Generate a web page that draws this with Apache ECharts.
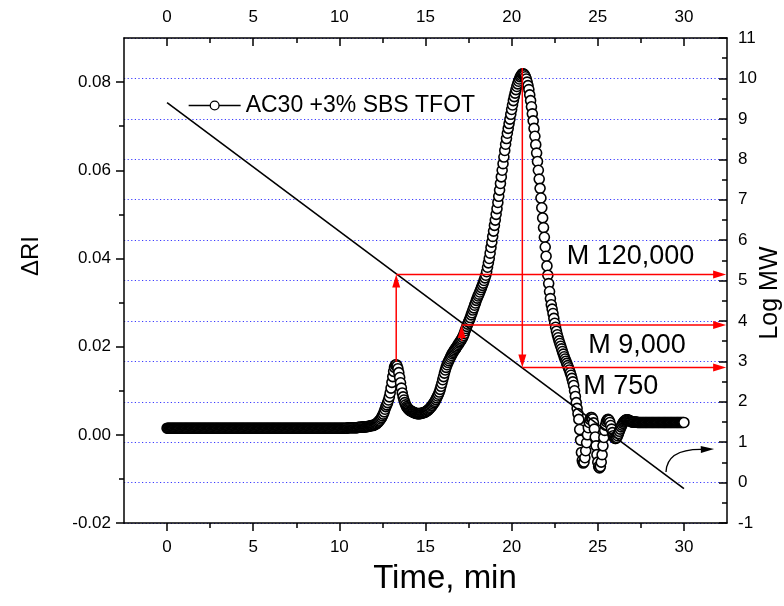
<!DOCTYPE html>
<html>
<head>
<meta charset="utf-8">
<script src="https://cdn.jsdelivr.net/npm/echarts@6/dist/echarts.min.js"></script>
<style>
html,body{margin:0;padding:0;background:#fff;}
#chart{width:784px;height:606px;}
</style>
</head>
<body>
<div id="chart"></div>
<script>
// ---------------- DATA ----------------
const SERIES_NAME = 'AC30 +3% SBS TFOT';

// ΔRI detector signal, sampled every 0.05 min; one row per minute
const SAMPLE_START = 0, SAMPLE_STEP = 0.05;
const riBaseline = [
  // 0
  0.0015,0.0015,0.0015,0.0015,0.0015,0.0015,0.0015,0.0015,0.0015,0.0015,0.0015,0.0015,0.0015,0.0015,0.0015,0.0015,0.0015,0.0015,0.0015,0.0015,
  // 1
  0.0015,0.0015,0.0015,0.0015,0.0015,0.0015,0.0015,0.0015,0.0015,0.0015,0.0015,0.0015,0.0015,0.0015,0.0015,0.0015,0.0015,0.0015,0.0015,0.0015,
  // 2
  0.0015,0.0015,0.0015,0.0015,0.0015,0.0015,0.0015,0.0015,0.0015,0.0015,0.0015,0.0015,0.0015,0.0015,0.0015,0.0015,0.0015,0.0015,0.0015,0.0015,
  // 3
  0.0015,0.0015,0.0015,0.0015,0.0015,0.0015,0.0015,0.0015,0.0015,0.0015,0.0015,0.0015,0.0015,0.0015,0.0015,0.0015,0.0015,0.0015,0.0015,0.0015,
  // 4
  0.0015,0.0015,0.0015,0.0015,0.0015,0.0015,0.0015,0.0015,0.0015,0.0015,0.0015,0.0015,0.0015,0.0015,0.0015,0.0015,0.0015,0.0015,0.0015,0.0015,
  // 5
  0.0015,0.0015,0.0015,0.0015,0.0015,0.0015,0.0015,0.0015,0.0015,0.0015,0.0015,0.0015,0.0015,0.0015,0.0015,0.0015,0.0015,0.0015,0.0015,0.0015,
  // 6
  0.0015,0.0015,0.0015,0.0015,0.0015,0.0015,0.0015,0.0015,0.0015,0.0015,0.0015,0.0015,0.0015,0.0015,0.0015,0.0015,0.0015,0.0015,0.0015,0.0015,
  // 7
  0.0015,0.0015,0.0015,0.0015,0.0015,0.0015,0.0015,0.0015,0.0015,0.0015,0.0015,0.0015,0.0015,0.0015,0.0015,0.0015,0.0015,0.0015,0.0015,0.0015,
  // 8
  0.0015,0.0015,0.0015,0.0015,0.0015,0.0015,0.0015,0.0015,0.0015,0.0015,0.0015,0.0015,0.0015,0.0015,0.0015,0.0015,0.0015,0.0015,0.0015,0.0015,
  // 9
  0.0015,0.0015,0.0015,0.0015,0.0015,0.0015,0.0015,0.0015,0.0015,0.0015,0.0015,0.0015,0.0015,0.0015,0.0015,0.0015,0.0015,0.0015,0.0015,0.0015,
  // 10
  0.0015,0.0015,0.0015,0.0015,0.0015,0.0015,0.0015,0.0015,0.0015,0.0015,0.0016,0.0016,0.0016,0.0016,0.0016,0.0016,0.0016,0.0016,0.0016,0.0016,
  // 11
  0.0016,0.0016,0.0017,0.0017,0.0017,0.0017,0.0017,0.0018,0.0018,0.0018,0.0018,0.0018,0.0019,0.0019,0.0019,0.0020,0.0020,0.0021,0.0021,0.0021
];
const riPeaks = [
  // 12
  0.0022,0.0023,0.0024,0.0025,0.0027,0.0029,0.0031,0.0033,0.0036,0.0039,0.0043,0.0047,0.0052,0.0058,0.0064,0.0068,0.0073,0.0079,0.0086,0.0095,
  // 13
  0.0106,0.0119,0.0132,0.0144,0.0153,0.0158,0.0159,0.0156,0.0150,0.0141,0.0130,0.0118,0.0106,0.0095,0.0086,0.0079,0.0073,0.0068,0.0064,0.0061,
  // 14
  0.0059,0.0057,0.0055,0.0054,0.0053,0.0052,0.0051,0.0050,0.0049,0.0049,0.0048,0.0048,0.0048,0.0048,0.0048,0.0049,0.0049,0.0050,0.0050,0.0051,
  // 15
  0.0052,0.0053,0.0055,0.0056,0.0058,0.0060,0.0062,0.0065,0.0067,0.0070,0.0073,0.0076,0.0080,0.0084,0.0088,0.0092,0.0097,0.0103,0.0110,0.0117,
  // 16
  0.0125,0.0132,0.0140,0.0147,0.0153,0.0159,0.0164,0.0168,0.0172,0.0176,0.0180,0.0184,0.0187,0.0190,0.0193,0.0196,0.0199,0.0202,0.0205,0.0208,
  // 17
  0.0211,0.0214,0.0217,0.0221,0.0225,0.0230,0.0236,0.0241,0.0246,0.0251,0.0256,0.0261,0.0266,0.0272,0.0277,0.0283,0.0288,0.0294,0.0299,0.0305,
  // 18
  0.0310,0.0315,0.0319,0.0324,0.0329,0.0334,0.0339,0.0344,0.0350,0.0356,0.0362,0.0370,0.0380,0.0390,0.0400,0.0412,0.0425,0.0437,0.0450,0.0462,
  // 19
  0.0475,0.0487,0.0500,0.0513,0.0527,0.0541,0.0555,0.0570,0.0585,0.0600,0.0615,0.0630,0.0645,0.0659,0.0672,0.0684,0.0695,0.0706,0.0716,0.0727,
  // 20
  0.0738,0.0748,0.0758,0.0767,0.0775,0.0783,0.0790,0.0796,0.0802,0.0807,0.0812,0.0815,0.0818,0.0819,0.0818,0.0816,0.0812,0.0807,0.0800,0.0792,
  // 21
  0.0783,0.0771,0.0758,0.0744,0.0728,0.0712,0.0695,0.0677,0.0658,0.0639,0.0620,0.0600,0.0580,0.0559,0.0537,0.0515,0.0492,0.0470,0.0448,0.0426,
  // 22
  0.0405,0.0383,0.0362,0.0343,0.0325,0.0309,0.0295,0.0285,0.0275,0.0264,0.0253,0.0244,0.0235,0.0227,0.0220,0.0213,0.0207,0.0201,0.0195,0.0189,
  // 23
  0.0183,0.0177,0.0172,0.0167,0.0162,0.0157,0.0152,0.0147,0.0141,0.0135,0.0128,0.0120,0.0112,0.0100,0.0087,0.0073,0.0060,0.0048,0.0035,0.0012,
  // 24
  -0.0012,-0.0040,-0.0058,-0.0064,-0.0062,-0.0052,-0.0036,-0.0018,0.0000,0.0016,0.0028,0.0035,0.0039,0.0039,0.0036,0.0027,0.0013,-0.0005,-0.0025,-0.0045,
  // 25
  -0.0062,-0.0072,-0.0075,-0.0072,-0.0062,-0.0045,-0.0025,-0.0006,0.0010,0.0022,0.0030,0.0034,0.0035,0.0033,0.0028,0.0021,0.0013,0.0005,-0.0002,-0.0006,
  // 26
  -0.0008,-0.0008,-0.0006,-0.0002,0.0003,0.0008,0.0013,0.0018,0.0022,0.0026,0.0029,0.0031,0.0033,0.0034,0.0034,0.0034,0.0033,0.0032,0.0031,0.0030
];
const riTail = [
  // 27
  0.0029,0.0029,0.0029,0.0029,0.0029,0.0029,0.0028,0.0028,0.0028,0.0028,0.0028,0.0028,0.0028,0.0028,0.0028,0.0028,0.0028,0.0028,0.0028,0.0028,
  // 28
  0.0028,0.0028,0.0028,0.0028,0.0028,0.0028,0.0028,0.0028,0.0028,0.0028,0.0028,0.0028,0.0028,0.0028,0.0028,0.0028,0.0028,0.0028,0.0028,0.0028,
  // 29
  0.0028,0.0028,0.0028,0.0028,0.0028,0.0028,0.0028,0.0028,0.0028,0.0028,0.0028,0.0028,0.0028,0.0028,0.0028,0.0028,0.0028,0.0028,0.0028,0.0028,
  // 30
  0.0028
];

// Calibration line (Log MW vs time)
const calTime = [0, 30];
const calLogMW = [9.4, -0.15];

// Molecular weight read-offs
const mwLabels = ['M 120,000', 'M 9,000', 'M 750'];
const mwTime = [13.3, 17.1, 20.62];
const mwStartRI = [0.0166, 0.0213, 0.0832];   // where each vertical arrow starts (ΔRI)
const mwLogMW = [5.15, 3.9, 2.85];

// Axis tick values
const xMajor = [0, 5, 10, 15, 20, 25, 30];
const xMinor = [2.5, 7.5, 12.5, 17.5, 22.5, 27.5];
const riMajor = [-0.02, 0.00, 0.02, 0.04, 0.06, 0.08];
const riMinor = [-0.01, 0.01, 0.03, 0.05, 0.07];

// ---------------- LAYOUT ----------------
const X_MIN = -2.5, X_MAX = 32.5;
const RI_MIN = -0.02, RI_MAX = 0.09;
const MW_MIN = -1, MW_MAX = 11;
const FONT = '"Liberation Sans", Arial, sans-serif';
const labelPos = [[23.2, 5.6], [24.45, 3.4], [24.15, 2.37]];
const curvedArrow = [28.96, 0.26, 29.01, 0.83, 30.98, 0.82, 31.75, 0.83];

function riToMW(v) { return MW_MIN + (v - RI_MIN) / (RI_MAX - RI_MIN) * (MW_MAX - MW_MIN); }

const riValues = riBaseline.concat(riPeaks, riTail);
const riData = riValues.map((v, i) => [Math.round((SAMPLE_START + i * SAMPLE_STEP) * 1000) / 1000, v]);

const calData = calTime.map((t, i) => [t, calLogMW[i]]);

const arrowData = [];
mwTime.forEach((t, i) => {
  arrowData.push([t, riToMW(mwStartRI[i]), t, mwLogMW[i]]);
  arrowData.push([t, mwLogMW[i], X_MAX - 0.05, mwLogMW[i]]);
});

function arrowShape(p1, p2, color, lw, hl, hw) {
  const dx = p2[0] - p1[0], dy = p2[1] - p1[1];
  const len = Math.hypot(dx, dy) || 1;
  const ux = dx / len, uy = dy / len;
  const bx = p2[0] - ux * hl, by = p2[1] - uy * hl;
  return [
    { type: 'line', shape: { x1: p1[0], y1: p1[1], x2: bx + ux, y2: by + uy }, style: { stroke: color, lineWidth: lw } },
    { type: 'polygon', shape: { points: [[p2[0], p2[1]], [bx - uy * hw, by + ux * hw], [bx + uy * hw, by - ux * hw]] }, style: { fill: color } }
  ];
}

const chart = echarts.init(document.getElementById('chart'), null, { renderer: 'canvas' });

const axisLineStyle = { color: '#000', width: 1.5 };
const labelStyle = { color: '#000', fontSize: 17, fontFamily: FONT };
const tickLine = { color: '#000', width: 1.5 };

const option = {
  animation: false,
  backgroundColor: '#fff',
  grid: { left: 124, right: 57, top: 38, bottom: 83, containLabel: false },
  legend: {
    data: [{ name: SERIES_NAME }],
    left: 183, top: 89,
    itemWidth: 52, itemHeight: 11,
    textStyle: { color: '#000', fontSize: 23, fontFamily: FONT },
    lineStyle: { opacity: 1, width: 1.3, color: '#000' },
    itemStyle: { color: '#fff', borderColor: '#000', borderWidth: 1.3 },
    selectedMode: false
  },
  xAxis: [
    { type: 'value', position: 'bottom', min: X_MIN, max: X_MAX,
      axisLine: { show: true, onZero: false, lineStyle: axisLineStyle },
      axisTick: { show: true, inside: false, length: 8, customValues: xMajor, lineStyle: tickLine },
      axisLabel: { show: true, customValues: xMajor, margin: 16, ...labelStyle },
      splitLine: { show: false } },
    { type: 'value', position: 'bottom', min: X_MIN, max: X_MAX,
      axisLine: { show: false, onZero: false },
      axisTick: { show: true, inside: false, length: 5, customValues: xMinor, lineStyle: tickLine },
      axisLabel: { show: false }, splitLine: { show: false } },
    { type: 'value', position: 'top', min: X_MIN, max: X_MAX,
      axisLine: { show: true, onZero: false, lineStyle: axisLineStyle },
      axisTick: { show: true, inside: true, length: 8, customValues: xMajor, lineStyle: tickLine },
      axisLabel: { show: true, customValues: xMajor, margin: 12, ...labelStyle },
      splitLine: { show: false } },
    { type: 'value', position: 'top', min: X_MIN, max: X_MAX,
      axisLine: { show: false, onZero: false },
      axisTick: { show: true, inside: true, length: 5, customValues: xMinor, lineStyle: tickLine },
      axisLabel: { show: false }, splitLine: { show: false } }
  ],
  yAxis: [
    { type: 'value', position: 'left', min: RI_MIN, max: RI_MAX,
      axisLine: { show: true, onZero: false, lineStyle: axisLineStyle },
      axisTick: { show: true, inside: false, length: 8, customValues: riMajor, lineStyle: tickLine },
      axisLabel: { show: true, customValues: riMajor, margin: 13, formatter: v => v.toFixed(2), ...labelStyle },
      splitLine: { show: false } },
    { type: 'value', position: 'right', min: MW_MIN, max: MW_MAX, interval: 1,
      axisLine: { show: true, onZero: false, lineStyle: axisLineStyle },
      axisTick: { show: true, inside: true, length: 8, lineStyle: tickLine },
      minorTick: { show: true, splitNumber: 2, length: 5, lineStyle: tickLine },
      axisLabel: { show: true, margin: 11, ...labelStyle },
      splitLine: { show: true, lineStyle: { color: '#3a3aff', width: 1, type: [1.2, 2.4] } } },
    { type: 'value', position: 'left', min: RI_MIN, max: RI_MAX,
      axisLine: { show: false, onZero: false },
      axisTick: { show: true, inside: false, length: 5, customValues: riMinor, lineStyle: tickLine },
      axisLabel: { show: false }, splitLine: { show: false } }
  ],
  graphic: [
    { type: 'text', x: 31, y: 256, rotation: Math.PI / 2,
      style: { text: 'ΔRI', font: '24px ' + FONT, fill: '#000', align: 'center', verticalAlign: 'middle' } },
    { type: 'text', x: 770, y: 293, rotation: Math.PI / 2,
      style: { text: 'Log MW', font: '25px ' + FONT, fill: '#000', align: 'center', verticalAlign: 'middle' } },
    { type: 'text', x: 445, y: 579,
      style: { text: 'Time, min', font: '33px ' + FONT, fill: '#000', align: 'center', verticalAlign: 'middle' } }
  ],
  series: [
    { name: SERIES_NAME, type: 'line', xAxisIndex: 0, yAxisIndex: 0, data: riData,
      symbol: 'circle', symbolSize: 10, showSymbol: true, showAllSymbol: true,
      itemStyle: { color: '#fff', borderColor: '#000', borderWidth: 1.6 },
      lineStyle: { opacity: 0 }, silent: true, emphasis: { disabled: true }, clip: false, z: 2 },
    { name: 'calibration', type: 'line', xAxisIndex: 0, yAxisIndex: 1, data: calData,
      symbol: 'none', lineStyle: { color: '#000', width: 1.6 }, silent: true, z: 3 },
    { name: 'mwArrows', type: 'custom', xAxisIndex: 0, yAxisIndex: 1, data: arrowData, silent: true, z: 4, clip: false,
      encode: { x: [0, 2], y: [1, 3] },
      renderItem: (params, api) => {
        const p1 = api.coord([api.value(0), api.value(1)]);
        const p2 = api.coord([api.value(2), api.value(3)]);
        return { type: 'group', children: arrowShape(p1, p2, '#ff0000', 1.5, 13, 4) };
      } },
    { name: 'mwLabels', type: 'custom', xAxisIndex: 0, yAxisIndex: 1, data: labelPos, silent: true, z: 5, clip: false,
      renderItem: (params, api) => {
        const p = api.coord([api.value(0), api.value(1)]);
        return { type: 'text', x: p[0], y: p[1],
          style: { text: mwLabels[params.dataIndex], font: '27px ' + FONT, fill: '#000', align: 'left', verticalAlign: 'middle' } };
      } },
    { name: 'axisHint', type: 'custom', xAxisIndex: 0, yAxisIndex: 1, data: [curvedArrow], silent: true, z: 5, clip: false,
      renderItem: (params, api) => {
        const a = api.coord([api.value(0), api.value(1)]);
        const c = api.coord([api.value(2), api.value(3)]);
        const b = api.coord([api.value(4), api.value(5)]);
        const tip = api.coord([api.value(6), api.value(7)]);
        const dx = tip[0] - b[0], dy = tip[1] - b[1];
        const len = Math.hypot(dx, dy) || 1, ux = dx / len, uy = dy / len, hw = 3.5;
        return { type: 'group', children: [
          { type: 'bezierCurve', shape: { x1: a[0], y1: a[1], cpx1: c[0], cpy1: c[1], x2: b[0] + ux, y2: b[1] + uy },
            style: { stroke: '#000', lineWidth: 1.3, fill: null } },
          { type: 'polygon', shape: { points: [tip, [b[0] - uy * hw, b[1] + ux * hw], [b[0] + uy * hw, b[1] - ux * hw]] },
            style: { fill: '#000' } }
        ] };
      } }
  ]
};
chart.setOption(option);
</script>
</body>
</html>
